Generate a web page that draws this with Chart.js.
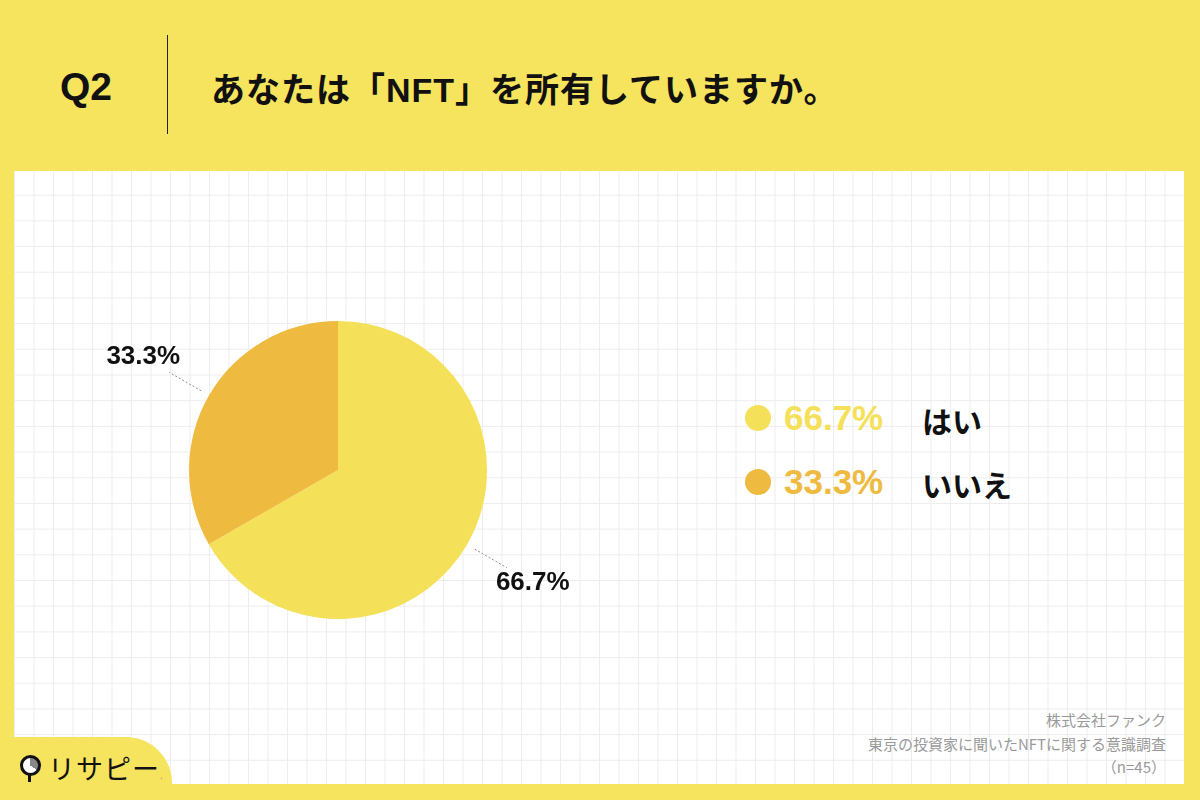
<!DOCTYPE html>
<html lang="ja">
<head>
<meta charset="utf-8">
<script src="https://cdn.jsdelivr.net/npm/chart.js@4"></script>
<style>
  html, body { margin: 0; padding: 0; }
  body {
    width: 1200px; height: 800px; position: relative; overflow: hidden;
    background: #F6E35E;
    font-family: "Liberation Sans", "Noto Sans CJK JP", sans-serif;
  }
  .panel {
    position: absolute; left: 14px; top: 171px; width: 1170px; height: 613px;
    background-color: #fff;
    background-image:
      linear-gradient(to right, #ededed 1px, transparent 1px),
      linear-gradient(to bottom, #ededed 1px, transparent 1px);
    background-size: 19.5px 25.7px;
    background-position: 0 -2px;
  }
  .q { position: absolute; left: 60px; top: 65px; font-size: 39px; font-weight: bold; color: #111; }
  .sep { position: absolute; left: 167px; top: 35px; width: 1px; height: 99px; background: #222; }
  .title { position: absolute; left: 211px; top: 63px; font-size: 34px; font-weight: bold; color: #111;
    font-family: "Noto Sans CJK JP", sans-serif; letter-spacing: 1px; white-space: nowrap; }
  .title .en { font-family: "Liberation Sans", sans-serif; }
  #chartBox { position: absolute; left: 89px; top: 221px; width: 498px; height: 498px; }
  .legend { position: absolute; left: 744px; top: 396px; }
  .legend .row { position: relative; height: 64px; }
  .legend .dot { position: absolute; left: 1px; top: 9px; width: 26px; height: 26px; border-radius: 50%; }
  .legend .pct { position: absolute; left: 40px; top: 2px; font-size: 35px; font-weight: bold; }
  .legend .lab { position: absolute; left: 178px; top: 2px; font-size: 30px; font-weight: bold; color: #111;
    font-family: "Noto Sans CJK JP", sans-serif; white-space: nowrap; }
  .foot { position: absolute; right: 34px; top: 708px; text-align: right; color: #9a9a9a; font-size: 15px;
    line-height: 23.5px; font-family: "Noto Sans CJK JP", sans-serif; }
  .tab { position: absolute; left: 0; top: 737px; width: 172px; height: 63px; background: #F6E35E;
    border-top-right-radius: 46px; }
  .logo { position: absolute; left: 48px; top: 748px; font-size: 27px; color: #111; font-family: "Noto Sans CJK JP", sans-serif;
    font-weight: normal; letter-spacing: 1px; }
  .pin { position: absolute; left: 20px; top: 755px; width: 15px; height: 15px; border: 3px solid #111; border-radius: 50%;
    background: conic-gradient(#888 0 35%, #fff 35% 100%); }
  .stem { position: absolute; left: 28px; top: 774px; width: 3px; height: 8px; background: #111; }
</style>
</head>
<body>
<div class="panel"></div>
<div class="q">Q2</div>
<div class="sep"></div>
<div class="title">あなたは「<span class="en">NFT</span>」を所有していますか。</div>
<div id="chartBox"><canvas id="pie"></canvas></div>
<div class="legend" id="legend"></div>
<div class="foot">株式会社ファンク<br>東京の投資家に聞いたNFTに関する意識調査<br>（n=45）</div>
<div class="tab"></div>
<div class="pin"></div><div class="stem"></div>
<div class="logo">リサピー<span style="font-size:10px;color:#999">.</span></div>

<script>
const categories = ['はい', 'いいえ'];
const values = [66.7, 33.3];
const sliceColors = ['#F5E05A', '#EEBB40'];

// legend built from the same arrays
const legend = document.getElementById('legend');
categories.forEach((name, i) => {
    const row = document.createElement('div');
    row.className = 'row';
    row.innerHTML = `<div class="dot" style="background:${sliceColors[i]}"></div>
        <div class="pct" style="color:${sliceColors[i]}">${values[i].toFixed(1)}%</div>
        <div class="lab">${name}</div>`;
    legend.appendChild(row);
});

// outside labels with dotted leader lines
const outsideLabels = {
    id: 'outsideLabels',
    afterDatasetsDraw(chart) {
        const ctx = chart.ctx;
        const meta = chart.getDatasetMeta(0);
        meta.data.forEach((arc, i) => {
            const mid = (arc.startAngle + arc.endAngle) / 2;
            const r = arc.outerRadius;
            const cos = Math.cos(mid), sin = Math.sin(mid);
            ctx.save();
            ctx.strokeStyle = '#8a8a8a';
            ctx.lineWidth = 1;
            ctx.setLineDash([2, 2]);
            ctx.beginPath();
            ctx.moveTo(arc.x + cos * (r + 9), arc.y + sin * (r + 9));
            ctx.lineTo(arc.x + cos * (r + 46), arc.y + sin * (r + 46));
            ctx.stroke();
            ctx.setLineDash([]);
            ctx.fillStyle = '#111';
            ctx.font = 'bold 26px "Liberation Sans", sans-serif';
            ctx.textAlign = 'center';
            ctx.textBaseline = 'middle';
            ctx.fillText(values[i].toFixed(1) + '%', arc.x + cos * (r + 76), arc.y + sin * (r + 76));
            ctx.restore();
        });
    }
};

new Chart(document.getElementById('pie'), {
    type: 'pie',
    data: {
        labels: categories,
        datasets: [{
            data: values,
            backgroundColor: sliceColors,
            borderWidth: 0
        }]
    },
    options: {
        responsive: true,
        maintainAspectRatio: false,
        animation: false,
        layout: { padding: 100 },
        plugins: {
            legend: { display: false },
            tooltip: { enabled: false }
        }
    },
    plugins: [outsideLabels]
});
</script>
</body>
</html>
